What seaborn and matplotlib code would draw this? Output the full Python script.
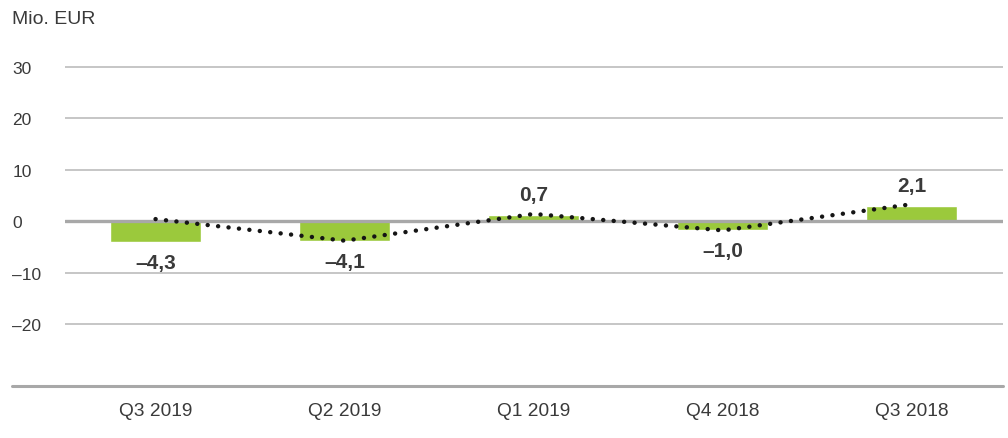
import matplotlib
matplotlib.use("Agg")
import matplotlib.pyplot as plt
import seaborn as sns
import numpy as np
import pandas as pd

# chart data
quarters = ["Q3 2019", "Q2 2019", "Q1 2019", "Q4 2018", "Q3 2018"]
bar_values = [-4.0, -3.8, 1.2, -1.7, 2.9]
bar_labels = ["\u20134,3", "\u20134,1", "0,7", "\u20131,0", "2,1"]
line_values = [0.4, -3.8, 1.4, -1.8, 3.3]
y_ticks = [-20, -10, 0, 10, 20, 30]
y_tick_labels = ["\u201320", "\u201310", "0", "10", "20", "30"]

sns.set_style("white")
plt.rcParams['font.family'] = ['Liberation Sans', 'DejaVu Sans']

TEXT = "#3a3a3a"
GREEN = "#9bc93c"

df = pd.DataFrame({"quarter": quarters, "bar": bar_values, "line": line_values})

fig = plt.figure(figsize=(10.08, 4.39), dpi=100)
ax = fig.add_axes([65 / 1008, 0.1191, (1003 - 65) / 1008, 0.7966])

sns.barplot(data=df, x="quarter", y="bar", color=GREEN, width=0.48,
            saturation=1, ax=ax, zorder=2)
# dotted trend line over the bars
ax.plot(df["quarter"], df["line"], color="#151515", linewidth=3.2,
        linestyle=(0, (0.01, 2.35)), dash_capstyle="round", zorder=4)

# grid and zero line
for t in y_ticks:
    if t == 0:
        ax.axhline(0, color="#a8a8a8", linewidth=2.4, zorder=3)
    else:
        ax.axhline(t, color="#bcbcbc", linewidth=1.2, zorder=1)

# value labels
for i, (v, lab) in enumerate(zip(bar_values, bar_labels)):
    off = 15 if v >= 0 else -15
    ax.annotate(lab, (i, v), xytext=(0, off), textcoords="offset points",
                ha="center", va="center", fontsize=15, fontweight="bold",
                color=TEXT)

ax.set_xlim(-0.479, 4.482)
ax.set_ylim(-32.0, 36)
ax.set_yticks(y_ticks)
ax.set_yticklabels(y_tick_labels)
for lbl in ax.get_yticklabels():
    lbl.set_horizontalalignment("left")
ax.tick_params(axis="y", length=0, pad=38, labelsize=12.5, labelcolor=TEXT)
ax.tick_params(axis="x", length=0, pad=12, labelsize=13.8, labelcolor=TEXT)
ax.set_xlabel("")
ax.set_ylabel("")
for s in ax.spines.values():
    s.set_visible(False)

# bottom rule, running out to the left under the tick labels
ax.plot([-0.0565, 1], [0, 0], transform=ax.transAxes, color="#a8a8a8",
        linewidth=2.2, clip_on=False, zorder=3)

fig.text(12 / 1008, 1 - 19 / 439, "Mio. EUR", fontsize=14, color=TEXT,
         ha="left", va="center")

fig.savefig("out.png", dpi=100)
